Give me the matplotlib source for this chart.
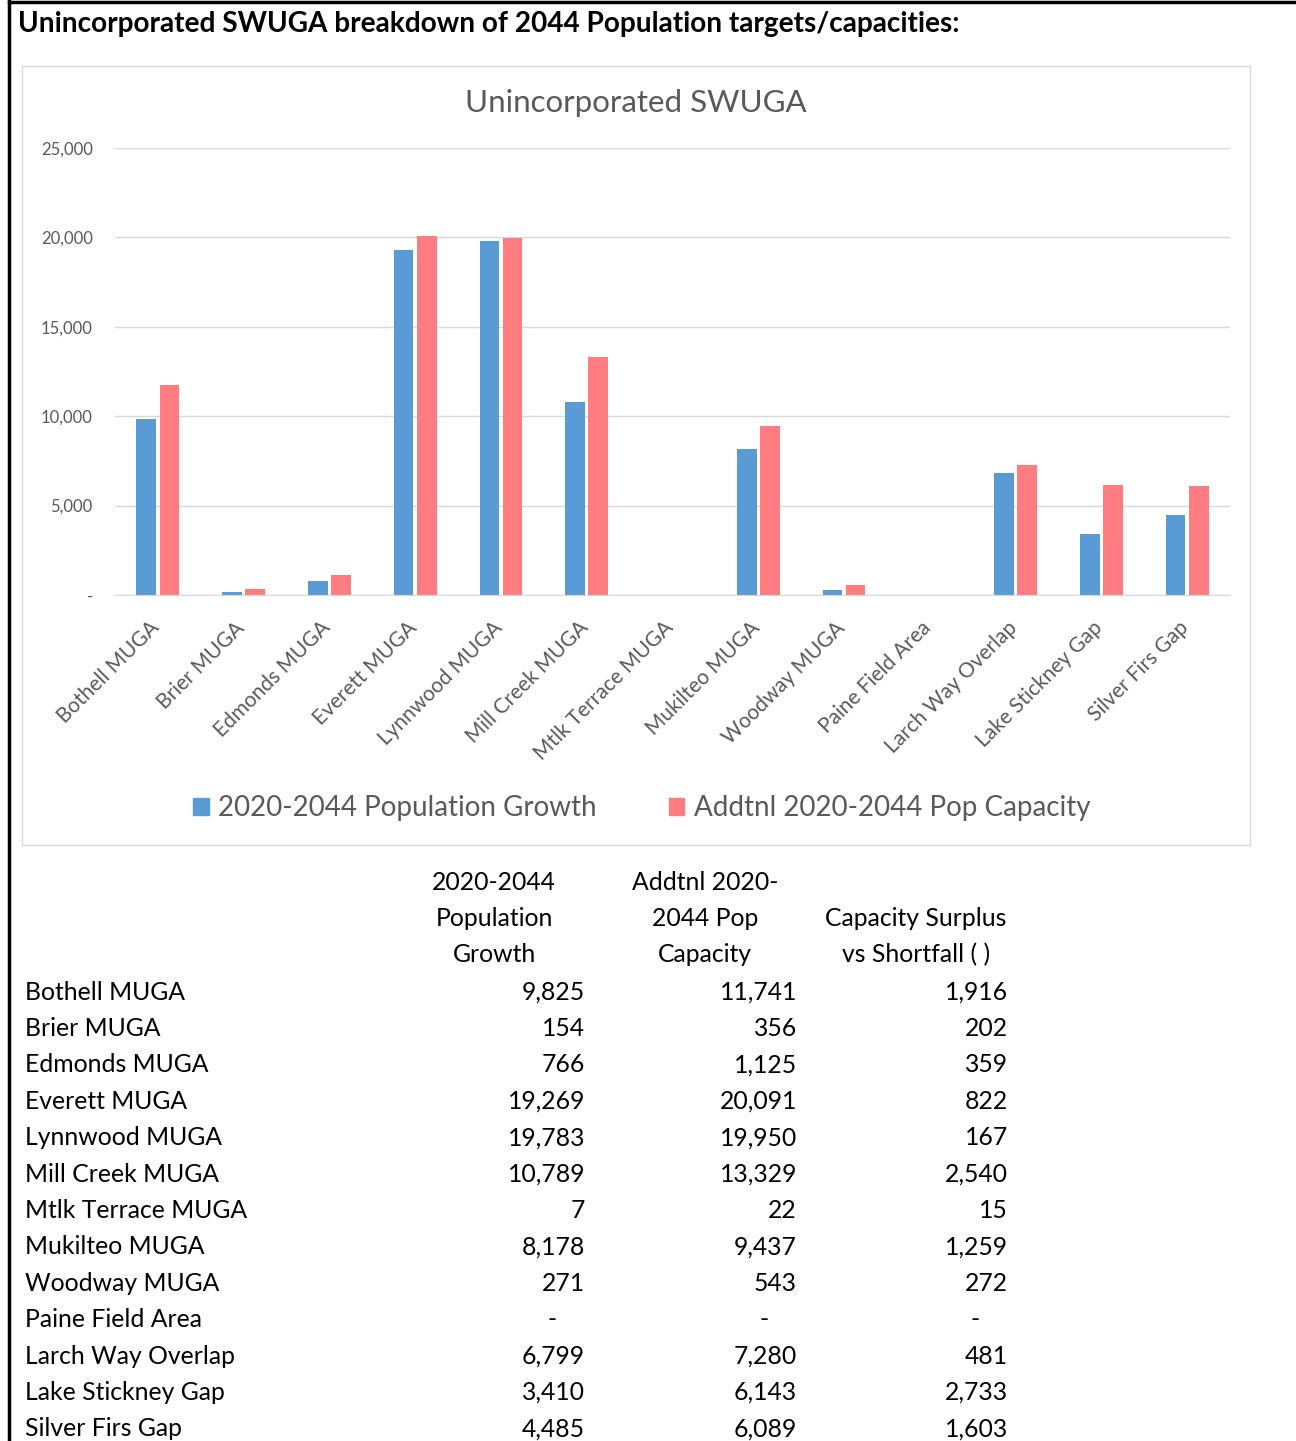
import matplotlib.pyplot as plt
import numpy as np
from matplotlib.patches import Rectangle, Patch
from matplotlib.lines import Line2D
from matplotlib.transforms import ScaledTranslation

#### DATA ####

areas = ["Bothell MUGA", "Brier MUGA", "Edmonds MUGA", "Everett MUGA", "Lynnwood MUGA",
         "Mill Creek MUGA", "Mtlk Terrace MUGA", "Mukilteo MUGA", "Woodway MUGA",
         "Paine Field Area", "Larch Way Overlap", "Lake Stickney Gap", "Silver Firs Gap"]
growth = [9825, 154, 766, 19269, 19783, 10789, 7, 8178, 271, 0, 6799, 3410, 4485]
capacity = [11741, 356, 1125, 20091, 19950, 13329, 22, 9437, 543, 0, 7280, 6143, 6089]
surplus = [1916, 202, 359, 822, 167, 2540, 15, 1259, 272, 0, 481, 2733, 1603]
series_names = ["2020-2044 Population Growth", "Addtnl 2020-2044 Pop Capacity"]
yticks = [0, 5000, 10000, 15000, 20000, 25000]

#### LAYOUT ####

W, H = 1296, 1441
plt.rcParams['font.family'] = ['Lato', 'DejaVu Sans']
fig = plt.figure(figsize=(W / 100, H / 100), dpi=100)

def fx(x):
    return x / W

def fy(y):
    return 1 - y / H

blue = "#5B9BD5"
red = "#FF7C80"
gray = "#595959"

# page frame
fig.add_artist(Line2D([fx(9), fx(9)], [0, 1], color="black", lw=2.5))
fig.add_artist(Line2D([fx(9), 1], [fy(1.5), fy(1.5)], color="black", lw=2.5))

fig.text(fx(18), fy(24), "Unincorporated SWUGA breakdown of 2044 Population targets/capacities:",
         fontsize=20.2, fontweight="bold", va="center", ha="left", color="black")

# chart box
fig.add_artist(Rectangle((fx(22), fy(845)), fx(1250) - fx(22), fy(66) - fy(845),
                         transform=fig.transFigure, fill=False, edgecolor="#D9D9D9", lw=1))
fig.text(fx(636), fy(103), "Unincorporated SWUGA", fontsize=22.5, color=gray, ha="center", va="center")

#### PLOT ####

ax = fig.add_axes([fx(115), fy(595), fx(1230) - fx(115), fy(148) - fy(595)])
x = np.arange(len(areas))
bw = 0.23
ax.bar(x - bw / 2 - 0.02, growth, bw, color=blue, label=series_names[0])
ax.bar(x + bw / 2 + 0.02, capacity, bw, color=red, label=series_names[1])
ax.set_xlim(-0.5, len(areas) - 0.5)
ax.set_ylim(0, 25000)
ax.set_yticks(yticks)
ax.set_yticklabels(["-" if v == 0 else f"{v:,}" for v in yticks], fontsize=12, color=gray)
ax.yaxis.grid(True, color="#D9D9D9", lw=1)
ax.set_axisbelow(True)
for s in ["top", "right", "left"]:
    ax.spines[s].set_visible(False)
ax.spines["bottom"].set_color("#D9D9D9")
ax.tick_params(axis="both", length=0)
ax.tick_params(axis="y", pad=16)
ax.set_xticks(x)
ax.set_xticklabels(areas, rotation=45, ha="right", rotation_mode="anchor",
                   fontsize=15, color=gray)
ax.tick_params(axis="x", pad=12)
shift = ScaledTranslation(-9 / 100, -6 / 100, fig.dpi_scale_trans)
for lab in ax.get_xticklabels():
    lab.set_transform(lab.get_transform() + shift)

handles = [Patch(color=blue), Patch(color=red)]
fig.legend(handles, series_names, loc="center", bbox_to_anchor=(fx(642), fy(808)), ncol=2,
           frameon=False, fontsize=20, labelcolor=gray, handlelength=0.55, handleheight=0.55,
           handletextpad=0.35, columnspacing=2.6)

#### TABLE ####

fs = 17.8
hdr_x = [494, 705, 916]
headers = [["2020-2044", "Population", "Growth"],
           ["Addtnl 2020-", "2044 Pop", "Capacity"],
           ["", "Capacity Surplus", "vs Shortfall ( )"]]
for cx, lines in zip(hdr_x, headers):
    for i, t in enumerate(lines):
        fig.text(fx(cx), fy(882 + i * 36.5), t, fontsize=fs, ha="center", va="center", color="black")

val_x = [585, 797, 1008]
for r, name in enumerate(areas):
    yy = fy(992 + r * 36.4)
    fig.text(fx(25), yy, name, fontsize=fs, ha="left", va="center", color="black")
    for cx, col in zip(val_x, [growth, capacity, surplus]):
        v = col[r]
        if v == 0:
            fig.text(fx(cx - 33), yy, "-", fontsize=fs, ha="center", va="center", color="black")
        else:
            fig.text(fx(cx), yy, f"{v:,}", fontsize=fs, ha="right", va="center", color="black")

fig.savefig("out.png", dpi=100)
